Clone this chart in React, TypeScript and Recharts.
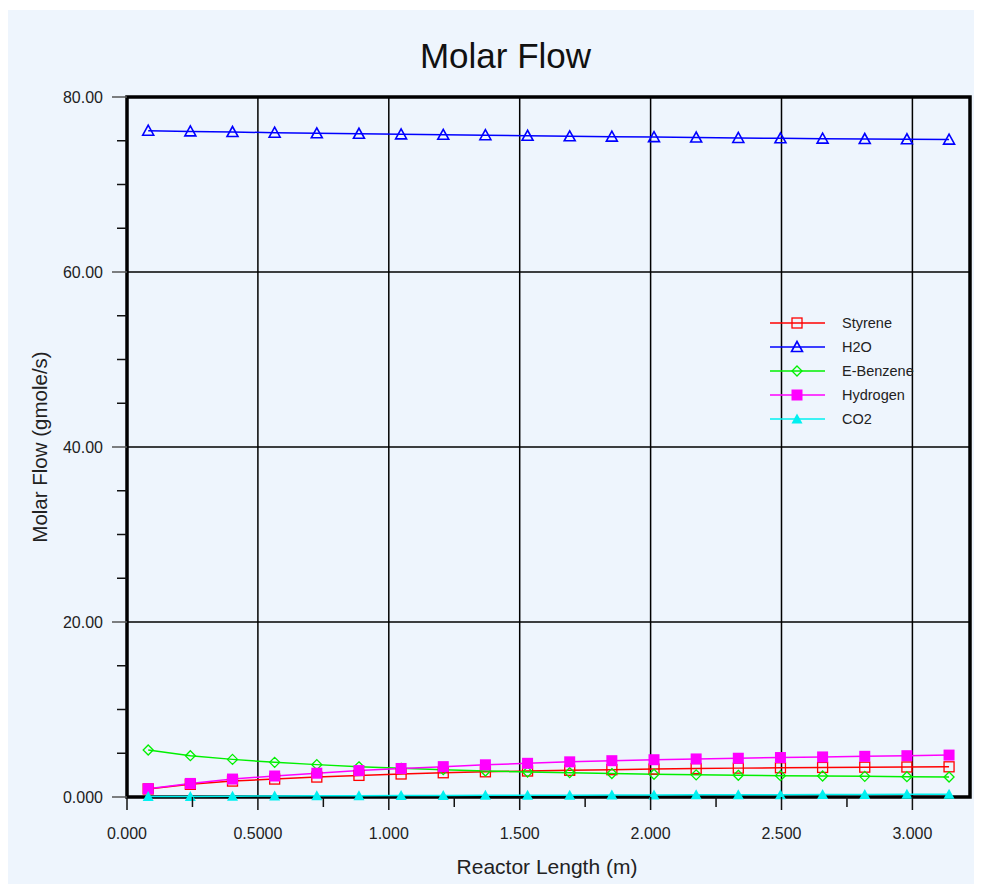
import {
  LineChart,
  Line,
  XAxis,
  YAxis,
  ReferenceLine,
  ReferenceArea,
  Legend,
  Customized,
} from "recharts";

// reactor length (m) at each segment centre
const LENGTH = [
  0.081, 0.242, 0.403, 0.564, 0.725, 0.886, 1.047, 1.208, 1.369, 1.53,
  1.691, 1.852, 2.013, 2.174, 2.335, 2.496, 2.657, 2.818, 2.979, 3.14,
];

const STYRENE = [
  0.92, 1.45, 1.82, 2.05, 2.28, 2.47, 2.63, 2.77, 2.88, 2.97,
  3.05, 3.12, 3.19, 3.25, 3.3, 3.34, 3.38, 3.41, 3.43, 3.45,
];
const H2O = [
  76.15, 76.07, 76.0, 75.92, 75.85, 75.8, 75.73, 75.68, 75.63, 75.57,
  75.51, 75.47, 75.42, 75.37, 75.32, 75.28, 75.24, 75.2, 75.17, 75.13,
];
const E_BENZENE = [
  5.37, 4.72, 4.3, 3.96, 3.7, 3.45, 3.28, 3.12, 2.97, 2.86,
  2.78, 2.68, 2.6, 2.53, 2.48, 2.44, 2.4, 2.36, 2.32, 2.29,
];
const HYDROGEN = [
  0.95, 1.55, 2.05, 2.4, 2.72, 3.02, 3.26, 3.47, 3.68, 3.85,
  4.02, 4.15, 4.26, 4.35, 4.43, 4.51, 4.58, 4.65, 4.72, 4.79,
];
const CO2 = [
  0.05, 0.07, 0.09, 0.11, 0.13, 0.14, 0.16, 0.17, 0.19, 0.2,
  0.21, 0.23, 0.24, 0.25, 0.26, 0.27, 0.29, 0.3, 0.31, 0.32,
];

const X_TICKS = [0, 0.25, 0.5, 0.75, 1, 1.25, 1.5, 1.75, 2, 2.25, 2.5, 2.75, 3];
const X_MAJOR = [0, 0.5, 1, 1.5, 2, 2.5, 3];
const X_LABELS = ["0.000", "0.5000", "1.000", "1.500", "2.000", "2.500", "3.000"];
const Y_TICKS = [0, 5, 10, 15, 20, 25, 30, 35, 40, 45, 50, 55, 60, 65, 70, 75, 80];
const Y_MAJOR = [0, 20, 40, 60, 80];
const Y_LABELS = ["0.000", "20.00", "40.00", "60.00", "80.00"];
const X_GRID = [0.5, 1, 1.5, 2, 2.5, 3];
const Y_GRID = [20, 40, 60];

type Marker = "openSquare" | "openTriangle" | "openDiamond" | "square" | "triangle";

const SERIES: { key: string; name: string; color: string; marker: Marker }[] = [
  { key: "styrene", name: "Styrene", color: "#ff0000", marker: "openSquare" },
  { key: "h2o", name: "H2O", color: "#0000ff", marker: "openTriangle" },
  { key: "ebenzene", name: "E-Benzene", color: "#00f000", marker: "openDiamond" },
  { key: "hydrogen", name: "Hydrogen", color: "#ff00ff", marker: "square" },
  { key: "co2", name: "CO2", color: "#00f0f0", marker: "triangle" },
];

const data = LENGTH.map((x, i) => ({
  x,
  styrene: STYRENE[i],
  h2o: H2O[i],
  ebenzene: E_BENZENE[i],
  hydrogen: HYDROGEN[i],
  co2: CO2[i],
}));

const FONT = "'Liberation Sans', Arial, sans-serif";
const W = 974;
const H = 874;

function markerShape(kind: Marker, color: string, cx: number, cy: number, key?: any) {
  switch (kind) {
    case "openSquare":
      return <rect key={key} x={cx - 5} y={cy - 5} width={10} height={10} fill="none" stroke={color} strokeWidth={1.3} />;
    case "openTriangle":
      return (
        <polygon key={key} points={`${cx},${cy - 5.5} ${cx - 5.5},${cy + 4.5} ${cx + 5.5},${cy + 4.5}`} fill="none" stroke={color} strokeWidth={1.6} />
      );
    case "openDiamond":
      return (
        <polygon key={key} points={`${cx},${cy - 5} ${cx + 5},${cy} ${cx},${cy + 5} ${cx - 5},${cy}`} fill="none" stroke={color} strokeWidth={1.3} />
      );
    case "square":
      return <rect key={key} x={cx - 5.5} y={cy - 5.5} width={11} height={11} fill={color} />;
    case "triangle":
      return <polygon key={key} points={`${cx},${cy - 5.5} ${cx - 5.5},${cy + 4.5} ${cx + 5.5},${cy + 4.5}`} fill={color} />;
  }
}

function XTick({ x, y, payload }: any) {
  const v = payload.value;
  const idx = X_MAJOR.indexOf(v);
  const major = idx >= 0;
  return (
    <g>
      <line x1={x} x2={x} y1={y} y2={y + (major ? 13 : 10)} stroke="#111" strokeWidth={1.5} />
      {major && (
        <text x={x} y={y + 42} textAnchor="middle" fontSize={16} fontFamily={FONT} fill="#222">
          {X_LABELS[idx]}
        </text>
      )}
    </g>
  );
}

function YTick({ x, y, payload }: any) {
  const v = payload.value;
  const idx = Y_MAJOR.indexOf(v);
  const major = idx >= 0;
  return (
    <g>
      <line x1={x - (major ? 15 : 10)} x2={x} y1={y} y2={y} stroke={major ? "#555" : "#111"} strokeWidth={1.5} />
      {major && (
        <text x={x - 24} y={y + 6} textAnchor="end" fontSize={16} fontFamily={FONT} fill="#222">
          {Y_LABELS[idx]}
        </text>
      )}
    </g>
  );
}

function LegendBox() {
  return (
    <svg width={180} height={120}>
      {SERIES.map((s, i) => {
        const cy = 12 + i * 24;
        return (
          <g key={s.key}>
            <line x1={8} x2={63} y1={cy} y2={cy} stroke={s.color} strokeWidth={1.5} />
            {markerShape(s.marker, s.color, 35, cy)}
            <text x={80} y={cy + 5} fontSize={14.5} fontFamily={FONT} fill="#222">
              {s.name}
            </text>
          </g>
        );
      })}
    </svg>
  );
}

function Texts() {
  return (
    <g fontFamily={FONT} fill="#111">
      <text x={497.5} y={58} textAnchor="middle" fontSize={35}>
        Molar Flow
      </text>
      <text x={539} y={864} textAnchor="middle" fontSize={21} fill="#222">
        Reactor Length (m)
      </text>
      <text x={39} y={437} textAnchor="middle" fontSize={20.5} fill="#222" transform="rotate(-90 39 437)">
        Molar Flow (gmole/s)
      </text>
    </g>
  );
}

export default function App() {
  return (
    <div style={{ width: W, borderTop: "2px solid #fff", background: "#eef5fd" }}>
      <LineChart width={W} height={H} data={data} margin={{ top: 87, right: 12, bottom: 27, left: 9 }}>
        <XAxis
          dataKey="x"
          type="number"
          domain={[0, 3.22]}
          ticks={X_TICKS}
          interval={0}
          axisLine={false}
          tickLine={false}
          tickSize={0}
          tickMargin={0}
          height={60}
          tick={<XTick />}
        />
        <YAxis
          type="number"
          domain={[0, 80]}
          ticks={Y_TICKS}
          interval={0}
          axisLine={false}
          tickLine={false}
          tickSize={0}
          tickMargin={0}
          width={110}
          tick={<YTick />}
        />
        {/* plot frame, kept underneath the series */}
        <ReferenceArea
          x1={0}
          x2={3.22}
          y1={0}
          y2={80}
          fill="none"
          fillOpacity={0}
          stroke="#000"
          strokeWidth={3.5}
          strokeOpacity={1}
          zIndex={-10}
        />
        {X_GRID.map((v) => (
          <ReferenceLine key={`gx${v}`} x={v} stroke="#000" strokeWidth={1.5} zIndex={-10} />
        ))}
        {Y_GRID.map((v) => (
          <ReferenceLine key={`gy${v}`} y={v} stroke="#000" strokeWidth={1.5} zIndex={-10} />
        ))}
        {SERIES.map((s) => (
          <Line
            key={s.key}
            dataKey={s.key}
            name={s.name}
            stroke={s.color}
            strokeWidth={1.5}
            type="linear"
            isAnimationActive={false}
            dot={(p: any) => markerShape(s.marker, s.color, p.cx, p.cy, `${s.key}-${p.index}`)}
            activeDot={false}
          />
        ))}
        <Legend
          layout="vertical"
          align="center"
          verticalAlign="middle"
          wrapperStyle={{ left: 754, top: 301, width: 180 }}
          content={<LegendBox />}
        />
        <Customized component={Texts} />
      </LineChart>
    </div>
  );
}
